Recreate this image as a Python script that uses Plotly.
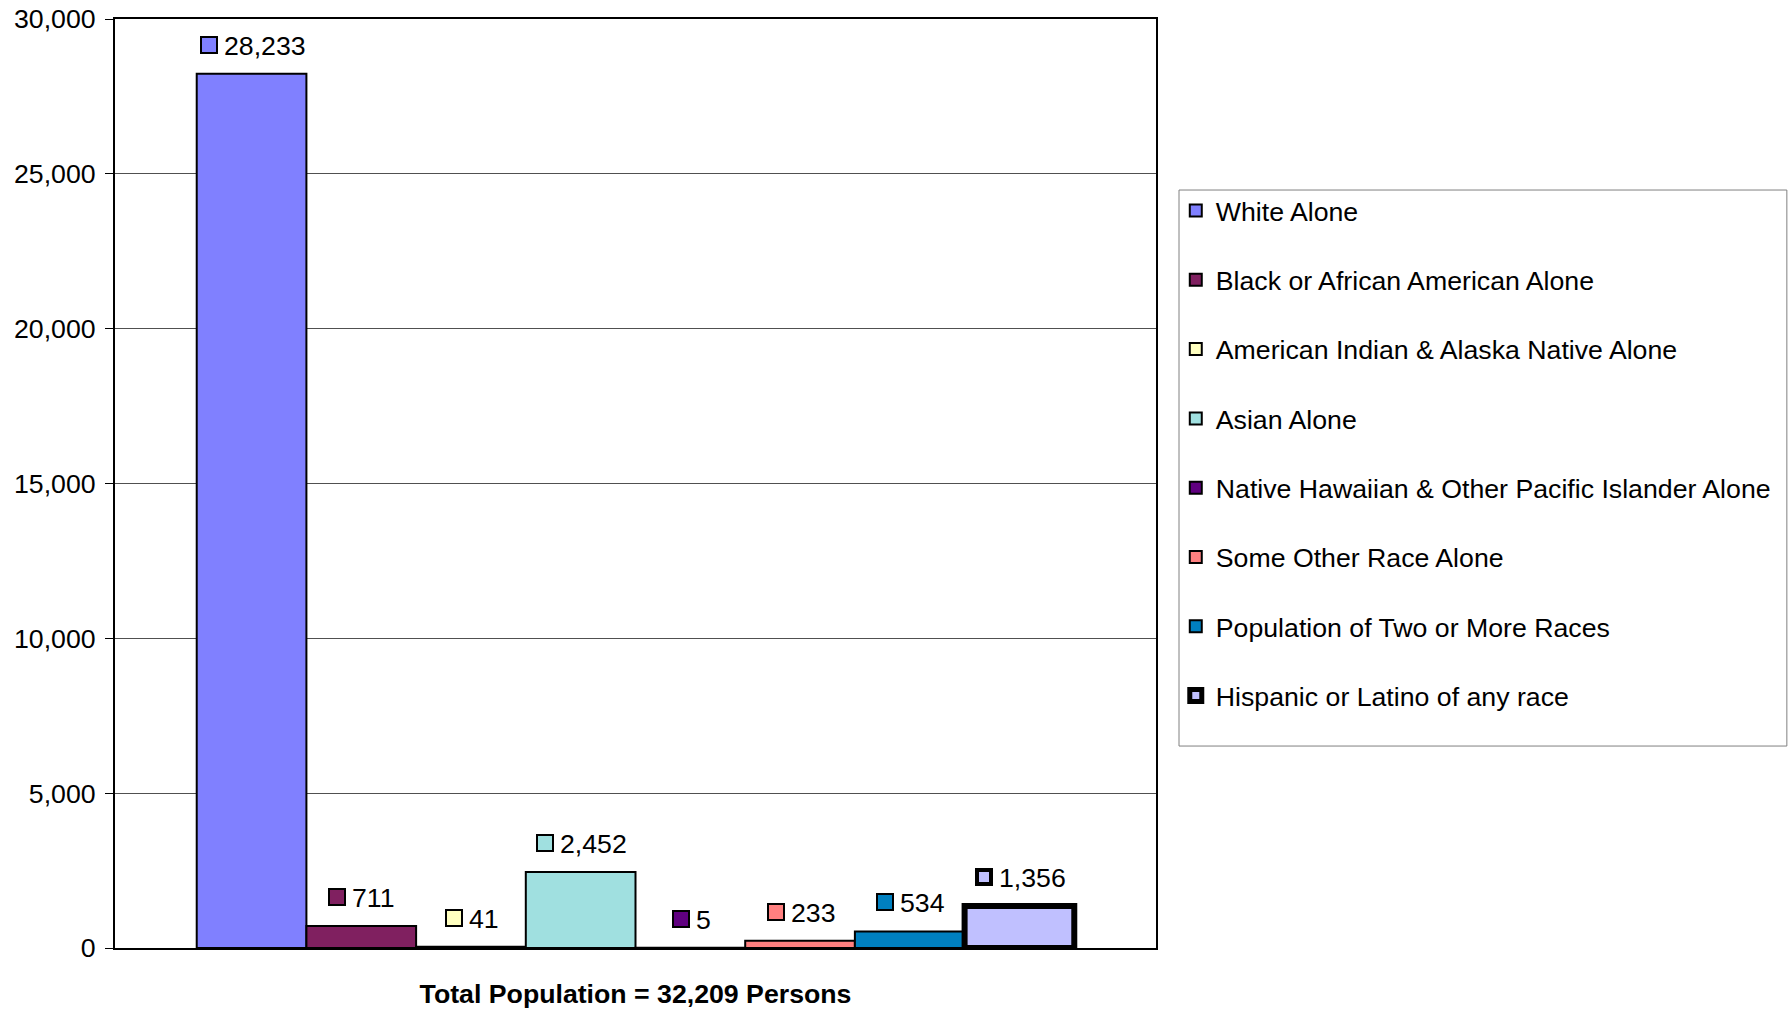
import plotly.graph_objects as go

category = "Total Population = 32,209 Persons"
series = ["White Alone", "Black or African American Alone",
          "American Indian & Alaska Native Alone", "Asian Alone",
          "Native Hawaiian & Other Pacific Islander Alone",
          "Some Other Race Alone", "Population of Two or More Races",
          "Hispanic or Latino of any race"]
values = [28233, 711, 41, 2452, 5, 233, 534, 1356]
colors = ["#8080FF", "#802060", "#FFFFC0", "#A0E0E0",
          "#600080", "#FF8080", "#0080C0", "#C0C0FF"]
line_widths = [2, 2, 2, 2, 2, 2, 2, 6]
y_ticks = [0, 5000, 10000, 15000, 20000, 25000, 30000]

FONT = "Liberation Sans, Arial, sans-serif"
FS = 26.7
BARGAP = 0.157
n = len(series)

fig = go.Figure()
for i, (name, v, c, lw) in enumerate(zip(series, values, colors, line_widths)):
    fig.add_trace(go.Bar(
        x=[category], y=[v], name=name, legendgroup=name,
        marker=dict(color=c, line=dict(color="black", width=lw)),
        hoverinfo="skip",
    ))

def text_width(s, size=FS):
    w = 0
    for ch in s:
        w += 0.278 * size if ch in ",." else 0.556 * size
    return w

annotations = []
slot = (1 - BARGAP) / n
for i, (v, c) in enumerate(zip(values, colors)):
    xc = (i - (n - 1) / 2) * slot
    label = f"{v:,}"
    tw = text_width(label)
    hisp = i == n - 1
    sq = 18
    gap = 4
    total = sq + gap + tw
    left = -total / 2
    annotations.append(dict(
        x=xc, y=v, xref="x", yref="y", text=label, showarrow=False,
        xanchor="left", yanchor="middle", xshift=left + sq + gap, yshift=28,
        font=dict(family=FONT, size=FS, color="black"),
    ))
    annotations.append(dict(
        x=xc, y=v, xref="x", yref="y", text=" ", showarrow=False,
        xanchor="left", yanchor="middle", xshift=left, yshift=29,
        width=10 if hisp else 14, height=10 if hisp else 14,
        bgcolor=c, bordercolor="black", borderwidth=4 if hisp else 2,
        borderpad=0, font=dict(size=6),
    ))

# legend frame drawn as a paper-referenced rectangle (sized like the original)
legend_frame = dict(
    type="rect", xref="paper", yref="paper",
    x0=1.0221, x1=1.606, y0=0.2174, y1=0.8159,
    line=dict(color="#808080", width=1), fillcolor="rgba(0,0,0,0)",
    layer="above",
)

fig.update_layout(
    width=1789, height=1009,
    margin=dict(l=115, r=633, t=19, b=61, autoexpand=False),
    paper_bgcolor="white", plot_bgcolor="white",
    barmode="group", bargap=BARGAP, bargroupgap=0,
    font=dict(family=FONT, size=FS, color="black"),
    showlegend=True,
    legend=dict(
        x=1.019, y=0.8196, xanchor="left", yanchor="top",
        borderwidth=0, bgcolor="rgba(0,0,0,0)",
        font=dict(family=FONT, size=FS, color="black"),
        tracegroupgap=31.6, traceorder="grouped",
        itemclick=False, itemdoubleclick=False,
    ),
    shapes=[legend_frame],
    annotations=annotations,
    xaxis=dict(
        type="category",
        showline=True, linecolor="black", linewidth=2, mirror=True,
        ticks="outside", ticklen=21, tickcolor="rgba(0,0,0,0)",
        tickfont=dict(family=FONT, size=FS, color="black", weight="bold"),
        showgrid=False, automargin=False, fixedrange=True,
    ),
    yaxis=dict(
        range=[0, 30000], tickvals=y_ticks,
        tickformat=",d",
        showline=True, linecolor="black", linewidth=2, mirror=True,
        ticks="outside", ticklen=8, tickcolor="black", tickwidth=1,
        ticklabelstandoff=4, ticklabeloverflow="allow",
        showgrid=True, gridcolor="#505050", gridwidth=1,
        zeroline=False,
        tickfont=dict(family=FONT, size=FS, color="black"),
        automargin=False, fixedrange=True,
    ),
)

fig.write_html(
    "out.html",
    config={"displayModeBar": False},
    post_script="document.body.style.margin='0';document.body.style.overflow='hidden';",
)
